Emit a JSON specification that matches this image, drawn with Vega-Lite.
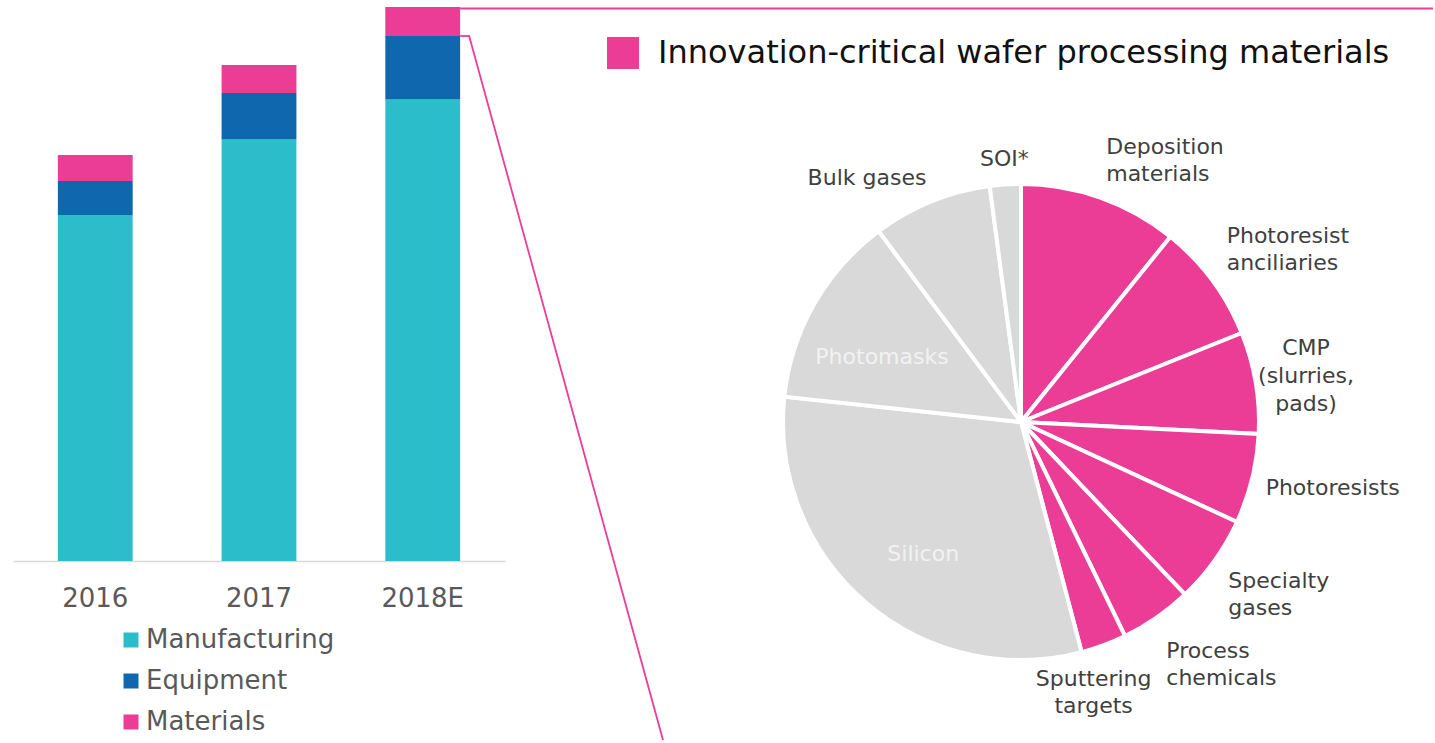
{
  "$schema": "https://vega.github.io/schema/vega-lite/v6.json",
  "padding": {"left": 13, "top": 7, "right": 0, "bottom": 0},
  "autosize": {"type": "pad"},
  "bounds": "flush",
  "spacing": 20,
  "config": {
    "view": {"stroke": null},
    "font": "DejaVu Sans",
    "axis": {"grid": false}
  },
  "resolve": {
    "scale": {"color": "independent"},
    "legend": {"color": "independent"}
  },
  "hconcat": [
    {
      "width": 492,
      "height": 554,
      "data": {
        "values": [
          {"year": "2016", "series": "Manufacturing", "value": 346},
          {"year": "2016", "series": "Equipment", "value": 34},
          {"year": "2016", "series": "Materials", "value": 26},
          {"year": "2017", "series": "Manufacturing", "value": 421.5},
          {"year": "2017", "series": "Equipment", "value": 46.5},
          {"year": "2017", "series": "Materials", "value": 28},
          {"year": "2018E", "series": "Manufacturing", "value": 461.5},
          {"year": "2018E", "series": "Equipment", "value": 63.5},
          {"year": "2018E", "series": "Materials", "value": 29}
        ]
      },
      "layer": [
        {
          "transform": [{"window": [{"op": "row_number", "as": "idx"}]}],
          "mark": {"type": "bar"},
          "encoding": {
            "x": {
              "field": "year",
              "type": "nominal",
              "scale": {"paddingInner": 0.543, "paddingOuter": 0.274},
              "axis": {
                "title": null,
                "labelAngle": 0,
                "labelFontSize": 26,
                "labelColor": "#595959",
                "labelPadding": 24,
                "ticks": false,
                "domainColor": "#D9D9D9",
                "domainWidth": 1.5
              }
            },
            "y": {
              "field": "value",
              "type": "quantitative",
              "stack": "zero",
              "scale": {"domain": [0, 554], "nice": false},
              "axis": null
            },
            "color": {
              "field": "series",
              "type": "nominal",
              "scale": {
                "domain": ["Manufacturing", "Equipment", "Materials"],
                "range": ["#2CBDCB", "#0F68AE", "#EB3C96"]
              },
              "legend": {
                "orient": "none",
                "legendX": 105,
                "legendY": 620,
                "direction": "vertical",
                "title": null,
                "symbolType": "square",
                "symbolSize": 225,
                "symbolStrokeWidth": 0,
                "labelFontSize": 26,
                "labelColor": "#595959",
                "labelOffset": 2,
                "labelLimit": 600,
                "rowPadding": 15,
                "padding": 0
              }
            },
            "order": {"field": "idx", "type": "quantitative"}
          }
        },
        {
          "transform": [
            {"filter": "datum.year == '2018E'"},
            {"aggregate": [{"op": "sum", "field": "value", "as": "total"}], "groupby": ["year"]}
          ],
          "mark": {"type": "rule", "color": "#EB3C96", "strokeWidth": 1.8, "yOffset": 1.5},
          "encoding": {
            "x": {"field": "year", "type": "nominal", "bandPosition": 1},
            "x2": {"value": 1420},
            "y": {"field": "total", "type": "quantitative"}
          }
        },
        {
          "transform": [
            {"filter": "datum.year == '2018E' && datum.series != 'Materials'"},
            {"aggregate": [{"op": "sum", "field": "value", "as": "base"}], "groupby": ["year"]}
          ],
          "mark": {"type": "rule", "color": "#EB3C96", "strokeWidth": 1.8},
          "encoding": {
            "x": {"field": "year", "type": "nominal", "bandPosition": 1},
            "x2": {"value": 457},
            "y": {"field": "base", "type": "quantitative"}
          }
        },
        {
          "transform": [
            {"filter": "datum.year == '2018E' && datum.series != 'Materials'"},
            {"aggregate": [{"op": "sum", "field": "value", "as": "base"}], "groupby": ["year"]}
          ],
          "mark": {"type": "rule", "color": "#EB3C96", "strokeWidth": 1.8, "xOffset": 9},
          "encoding": {
            "x": {"field": "year", "type": "nominal", "bandPosition": 1},
            "x2": {"value": 650},
            "y": {"field": "base", "type": "quantitative"},
            "y2": {"value": 733}
          }
        }
      ]
    },
    {
      "width": 900,
      "height": 554,
      "data": {
        "values": [
          {"category": "Deposition materials", "group": "Innovation-critical wafer processing materials", "share": 10.8},
          {"category": "Photoresist anciliaries", "group": "Innovation-critical wafer processing materials", "share": 8.1},
          {"category": "CMP (slurries, pads)", "group": "Innovation-critical wafer processing materials", "share": 6.9},
          {"category": "Photoresists", "group": "Innovation-critical wafer processing materials", "share": 6.1},
          {"category": "Specialty gases", "group": "Innovation-critical wafer processing materials", "share": 6.0},
          {"category": "Process chemicals", "group": "Innovation-critical wafer processing materials", "share": 4.9},
          {"category": "Sputtering targets", "group": "Innovation-critical wafer processing materials", "share": 3.1},
          {"category": "Silicon", "group": "Other wafer processing materials", "share": 30.8},
          {"category": "Photomasks", "group": "Other wafer processing materials", "share": 13.1},
          {"category": "Bulk gases", "group": "Other wafer processing materials", "share": 8.1},
          {"category": "SOI*", "group": "Other wafer processing materials", "share": 2.1}
        ]
      },
      "transform": [{"window": [{"op": "row_number", "as": "idx"}]}],
      "encoding": {
        "theta": {"field": "share", "type": "quantitative", "stack": true},
        "order": {"field": "idx", "type": "quantitative"},
        "detail": {"field": "category", "type": "nominal"}
      },
      "layer": [
        {
          "mark": {"type": "arc", "x": 496, "y": 415, "radius": 238, "stroke": "white", "strokeWidth": 4},
          "encoding": {
            "color": {
              "field": "group",
              "type": "nominal",
              "scale": {
                "domain": ["Innovation-critical wafer processing materials", "Other wafer processing materials"],
                "range": ["#EB3C96", "#D9D9D9"]
              },
              "legend": {
                "values": ["Innovation-critical wafer processing materials"],
                "orient": "none",
                "legendX": 82,
                "legendY": 30,
                "title": null,
                "symbolType": "square",
                "symbolSize": 1024,
                "symbolStrokeWidth": 0,
                "symbolOpacity": 1,
                "labelFontSize": 32,
                "labelColor": "#111111",
                "labelOffset": 19,
                "labelLimit": 1000,
                "padding": 0
              }
            }
          }
        },
        {
          "mark": {"type": "text", "x": 496, "y": 415, "radius": 256, "dy": -22, "align": "left", "baseline": "bottom", "lineBreak": " ", "lineHeight": 27, "fontSize": 22, "color": "#404040"},
          "encoding": {
            "text": {"condition": {"test": "indexof(['Deposition materials','Photoresist anciliaries'], datum.category) >= 0", "field": "category"}, "value": ""}
          }
        },
        {
          "mark": {"type": "text", "x": 496, "y": 415, "radius": 289, "dy": -26, "align": "center", "baseline": "middle", "lineBreak": " ", "lineHeight": 28, "fontSize": 22, "color": "#404040"},
          "encoding": {
            "text": {"condition": {"test": "datum.category == 'CMP (slurries, pads)'", "field": "category"}, "value": ""}
          }
        },
        {
          "mark": {"type": "text", "x": 496, "y": 415, "radius": 252, "dy": 6, "align": "left", "baseline": "middle", "fontSize": 22, "color": "#404040"},
          "encoding": {
            "text": {"condition": {"test": "datum.category == 'Photoresists'", "field": "category"}, "value": ""}
          }
        },
        {
          "mark": {"type": "text", "x": 496, "y": 415, "radius": 255, "align": "left", "baseline": "top", "lineBreak": " ", "lineHeight": 27, "fontSize": 22, "color": "#404040"},
          "encoding": {
            "text": {"condition": {"test": "datum.category == 'Specialty gases'", "field": "category"}, "value": ""}
          }
        },
        {
          "mark": {"type": "text", "x": 496, "y": 415, "radius": 255, "dy": 9, "align": "left", "baseline": "top", "lineBreak": " ", "lineHeight": 27, "fontSize": 22, "color": "#404040"},
          "encoding": {
            "text": {"condition": {"test": "datum.category == 'Process chemicals'", "field": "category"}, "value": ""}
          }
        },
        {
          "mark": {"type": "text", "x": 496, "y": 415, "radius": 255, "dx": -16, "dy": 8, "align": "center", "baseline": "top", "lineBreak": " ", "lineHeight": 27, "fontSize": 22, "color": "#404040"},
          "encoding": {
            "text": {"condition": {"test": "datum.category == 'Sputtering targets'", "field": "category"}, "value": ""}
          }
        },
        {
          "mark": {"type": "text", "x": 496, "y": 415, "radius": 251, "align": "right", "baseline": "bottom", "fontSize": 22, "color": "#404040"},
          "encoding": {
            "text": {"condition": {"test": "datum.category == 'Bulk gases'", "field": "category"}, "value": ""}
          }
        },
        {
          "mark": {"type": "text", "x": 496, "y": 415, "radius": 252, "align": "center", "baseline": "bottom", "fontSize": 22, "color": "#404040"},
          "encoding": {
            "text": {"condition": {"test": "datum.category == 'SOI*'", "field": "category"}, "value": ""}
          }
        },
        {
          "mark": {"type": "text", "x": 496, "y": 415, "radius": 160, "dy": 14, "align": "center", "baseline": "middle", "fontSize": 22, "color": "#F2F2F2"},
          "encoding": {
            "text": {"condition": {"test": "datum.category == 'Photomasks'", "field": "category"}, "value": ""}
          }
        },
        {
          "mark": {"type": "text", "x": 496, "y": 415, "radius": 150, "dy": 18, "align": "center", "baseline": "middle", "fontSize": 22, "color": "#F2F2F2"},
          "encoding": {
            "text": {"condition": {"test": "datum.category == 'Silicon'", "field": "category"}, "value": ""}
          }
        }
      ]
    }
  ]
}
